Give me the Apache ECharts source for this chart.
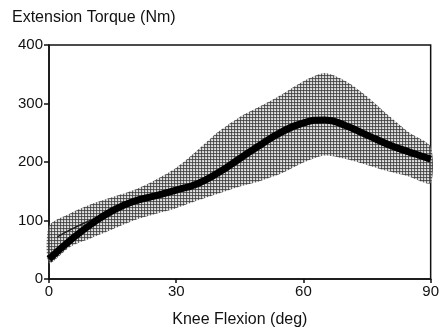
<!DOCTYPE html>
<html>
<head>
<meta charset="utf-8">
<script src="https://cdn.jsdelivr.net/npm/echarts@6/dist/echarts.min.js"></script>
<style>
  html, body { margin: 0; padding: 0; background: #fff; }
  #chart { width: 442px; height: 333px; }
</style>
</head>
<body>
<div id="chart"></div>
<script>
// knee flexion angle (deg)
const angles = [0, 5, 10, 15, 20, 25, 30, 35, 40, 45, 50, 55, 60, 65, 70, 75, 80, 85, 90];
// shaded range of torques
const bandLow = [27, 55, 70, 85, 100, 111, 121, 134, 146, 158, 168, 181, 199, 211, 205, 195, 184, 175, 164];
const bandHigh = [91, 112, 128, 140, 152, 169, 190, 220, 252, 277, 296, 316, 338, 352, 338, 312, 280, 250, 226];
// mean curve (thick)
const meanTorque = [34, 66, 94, 117, 133, 142, 152, 163, 182, 206, 230, 252, 267, 272, 262, 246, 230, 217, 205];
// second curve (thin)
const thinAngles = [2, 5, 10, 15, 20, 25, 30, 35, 40, 45, 50, 55, 60, 65, 70, 75, 80, 85, 86];
const thinTorque = [72, 84, 101, 117, 128, 138, 148, 160, 178, 202, 226, 247, 262, 270, 260, 242, 225, 212, 209];

const xTicks = [0, 30, 60, 90];
const yTicks = [0, 100, 200, 300, 400];

// stipple texture for the band
const tex = document.createElement('canvas');
tex.width = 3; tex.height = 3;
const tc = tex.getContext('2d');
tc.fillStyle = 'rgba(170,170,170,0.55)';
tc.fillRect(0, 0, 3, 3);
tc.fillStyle = 'rgba(55,55,55,0.75)';
tc.fillRect(0, 0, 1, 3);
tc.fillRect(0, 0, 3, 1);
tc.fillStyle = 'rgba(255,255,255,0.5)';
tc.fillRect(2, 2, 1, 1);

const chart = echarts.init(document.getElementById('chart'));
const font = 'Liberation Sans, Arial, sans-serif';

// band as one polygon: upper edge forward, lower edge back
const bandData = angles.map((a, i) => [a, bandLow[i], bandHigh[i]]);

chart.setOption({
  animation: false,
  textStyle: { fontFamily: font },
  title: {
    text: 'Extension Torque (Nm)',
    left: 7, top: 5,
    textStyle: { fontSize: 16, fontWeight: 'normal', color: '#111', fontFamily: font }
  },
  grid: {
    left: 49, right: 10, top: 45, bottom: 50,
    show: true, borderColor: '#111', borderWidth: 1.5, backgroundColor: 'transparent'
  },
  xAxis: {
    type: 'value', min: 0, max: 90, interval: 30,
    name: 'Knee Flexion (deg)', nameLocation: 'middle', nameGap: 33,
    nameTextStyle: { fontSize: 16, color: '#111', fontFamily: font },
    axisLine: { onZero: false, lineStyle: { color: '#111', width: 1.5 } },
    axisTick: { show: true, length: 4, lineStyle: { color: '#111', width: 1.5 } },
    axisLabel: { fontSize: 15, color: '#111', margin: 5 },
    splitLine: { show: false }
  },
  yAxis: {
    type: 'value', min: 0, max: 400, interval: 100,
    axisLine: { show: true, lineStyle: { color: '#111', width: 1.5 } },
    axisTick: { show: true, length: 5, lineStyle: { color: '#111', width: 1.5 } },
    axisLabel: { fontSize: 15, color: '#111', margin: 6 },
    splitLine: { show: false }
  },
  series: [
    {
      type: 'custom',
      data: bandData,
      silent: true,
      z: 1,
      renderItem: (params, api) => {
        if (params.dataIndex !== 0) return null;
        const up = bandData.map(d => api.coord([d[0], d[2]]));
        const lo = bandData.map(d => api.coord([d[0], d[1]])).reverse();
        return {
          type: 'polygon',
          shape: { points: up.concat(lo), smooth: 0.25 },
          style: { fill: { image: tex, repeat: 'repeat' }, stroke: 'none' }
        };
      }
    },
    {
      type: 'line', smooth: true, symbol: 'none',
      data: thinAngles.map((a, i) => [a, thinTorque[i]]),
      lineStyle: { color: '#222', width: 1.5 }, z: 3
    },
    {
      type: 'line', smooth: true, symbol: 'none',
      data: angles.map((a, i) => [a, meanTorque[i]]),
      lineStyle: { color: '#000', width: 7 }, z: 4
    }
  ]
});
</script>
</body>
</html>
